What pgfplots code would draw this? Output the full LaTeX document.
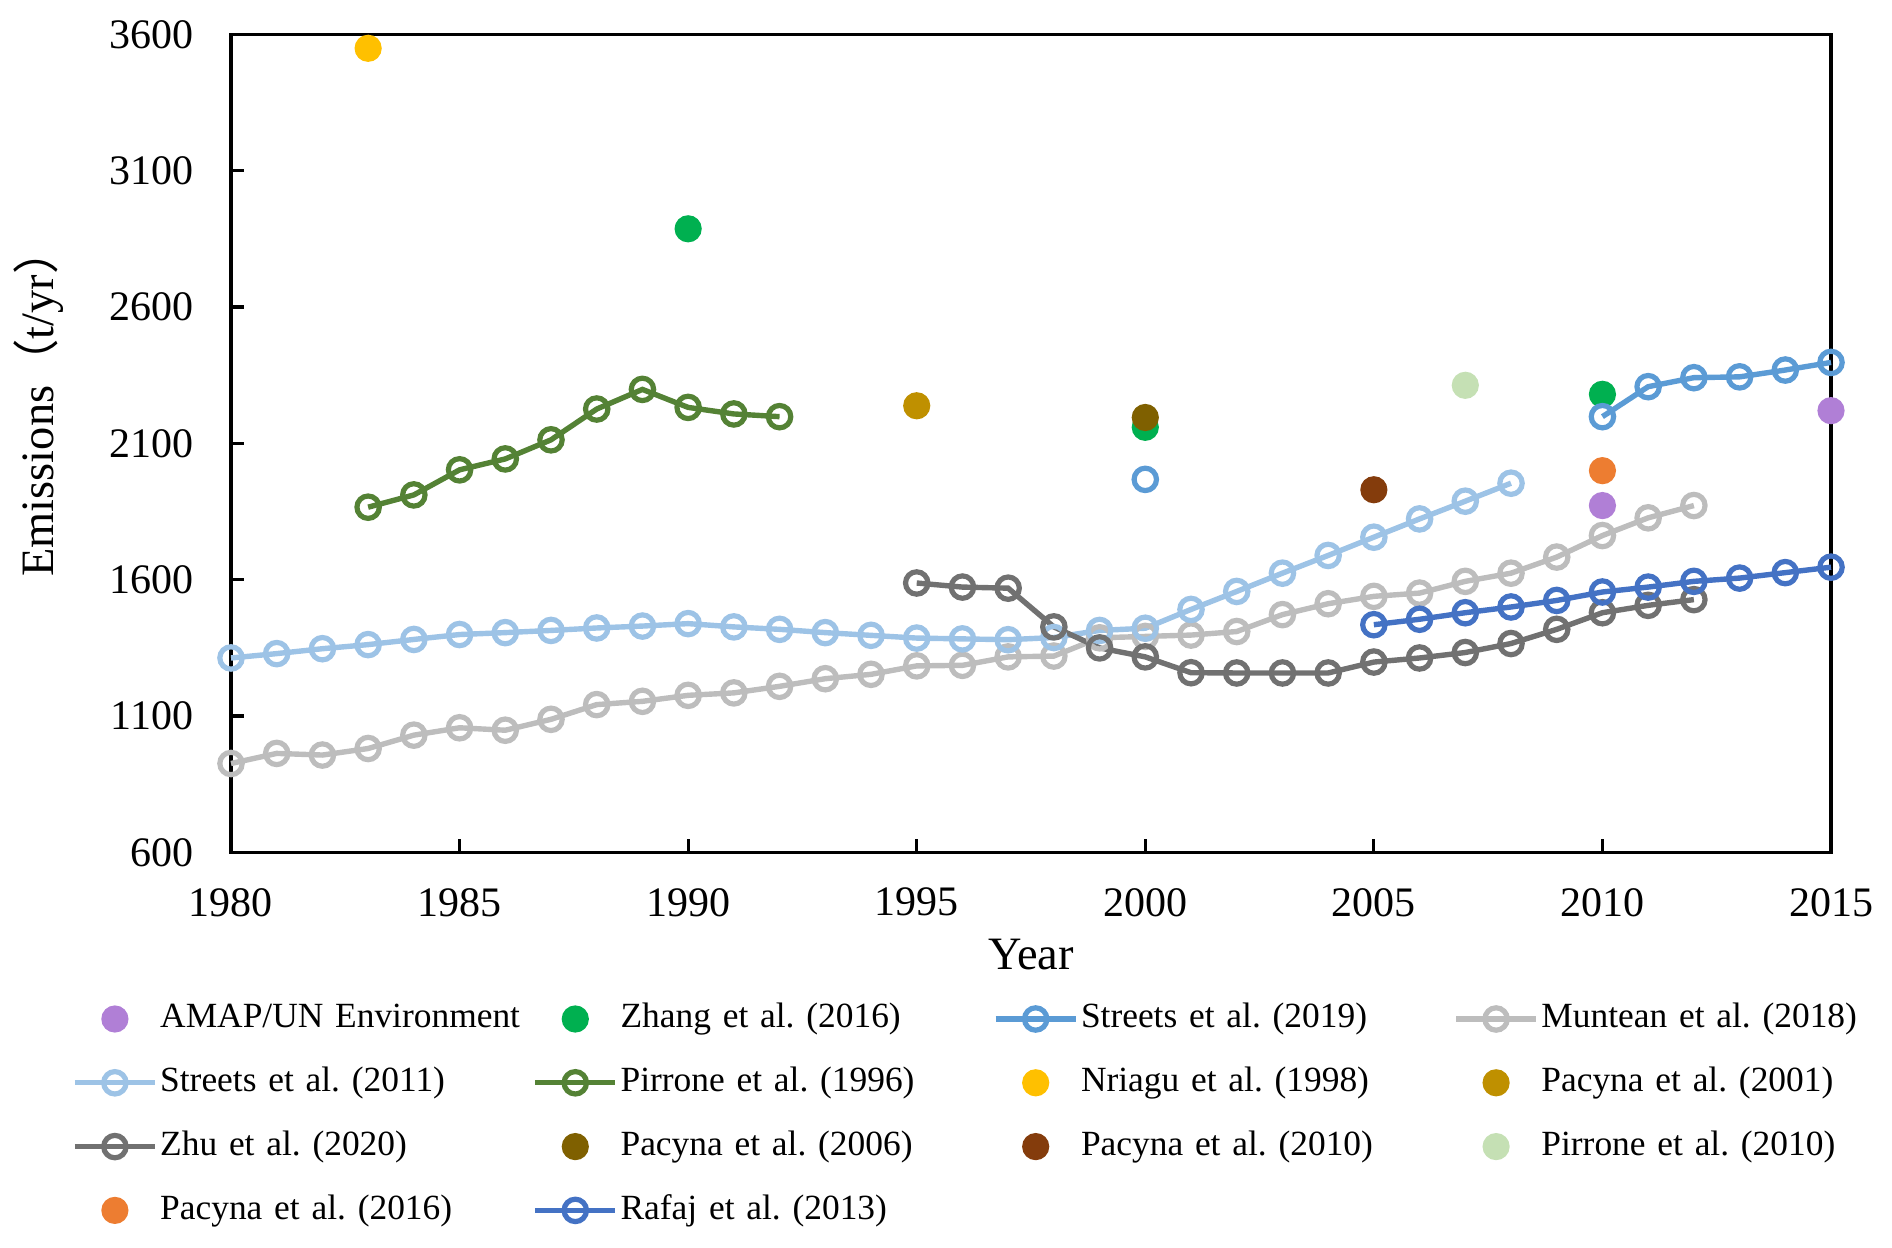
\documentclass[border=0pt]{standalone}
\usepackage{fontspec}
\setmainfont{Liberation Serif}
\newfontfamily\cjk{Noto Sans CJK SC}
\usepackage{pgfplots}
\pgfplotsset{compat=1.18}

\definecolor{cAmap}{HTML}{B07FD6}
\definecolor{cZhang}{HTML}{00B050}
\definecolor{cStr19}{HTML}{5B9BD5}
\definecolor{cMunt}{HTML}{BDBDBD}
\definecolor{cStr11}{HTML}{9DC3E6}
\definecolor{cPir96}{HTML}{548235}
\definecolor{cNri}{HTML}{FFC000}
\definecolor{cPac01}{HTML}{BF9000}
\definecolor{cZhu}{HTML}{717171}
\definecolor{cPac06}{HTML}{7F6000}
\definecolor{cPac10}{HTML}{843C0C}
\definecolor{cPir10}{HTML}{C5E0B4}
\definecolor{cPac16}{HTML}{ED7D31}
\definecolor{cRaf}{HTML}{4472C4}

\pgfplotsset{
  ser/.style={color=#1, line width=1.35pt, mark=o, mark size=2.8pt,
    mark options={fill=white, line width=1.3pt, solid}},
  dot/.style={only marks, color=#1, mark=*, mark size=3.2pt,
    mark options={draw=none, fill=#1}},
}

\begin{document}
\frenchspacing
\begin{tikzpicture}
\begin{axis}[
  scale only axis, width=400pt, height=204.5pt,
  xmin=1980, xmax=2015, ymin=600, ymax=3600,
  xtick={1980,1985,...,2015}, ytick={600,1100,...,3600},
  /pgf/number format/.cd, 1000 sep={}, assume math mode=true, /pgfplots/.cd,
  tick align=inside, xtick pos=bottom, ytick pos=left,
  major tick length=3.3pt,
  axis line style={line width=0.8pt},
  every tick/.style={line width=0.8pt, black},
  tick label style={font=\fontsize{10.5}{12}\selectfont},
  yticklabel style={inner sep=0pt, xshift=-9.25pt},
  xticklabel style={inner sep=0pt, yshift=-8.75pt},
  label style={font=\fontsize{11.6}{13}\selectfont},
  xlabel={Year},
  ylabel={Emissions{\cjk （}t/yr{\cjk ）}},
  xlabel style={at={(axis description cs:0.5,-0.125)}, anchor=center},
  ylabel style={at={(axis description cs:-0.12,0.55)}, anchor=center, rotate=0},
  clip=false, unbounded coords=jump,
  legend columns=4,
  legend cell align=left,
  legend image code/.code={\draw[mark repeat=2,mark phase=2] plot coordinates {(0pt,0pt) (10pt,0pt) (20pt,0pt)};},
  legend style={draw=none, fill=none, at={(0,0)}, anchor=north west,
    xshift=-39.9pt, yshift=-37.2pt, inner xsep=0pt, inner ysep=0pt,
    font=\fontsize{8.85}{10}\selectfont, row sep=7.45pt,
    nodes={inner sep=0pt, text width=93.1pt, text height=6.5pt, text depth=2pt},
    /tikz/every odd column/.append style={column sep=0.65pt},
    /tikz/every even column/.append style={column sep=0pt}},
]
\addplot[dot=cAmap] coordinates {(2010,1872) (2015,2220)};
\addlegendentry{AMAP/UN Environment}
\addplot[dot=cZhang] coordinates {(1990,2887) (2000,2159) (2010,2280)};
\addlegendentry{Zhang et al. (2016)}
\addplot[ser=cStr19] coordinates {(2000,1968) (2001,nan) (2010,2198) (2011,2308) (2012,2341) (2013,2344) (2014,2369) (2015,2397)};
\addlegendentry{Streets et al. (2019)}
\addplot[ser=cMunt] coordinates {
  (1980,926) (1981,963) (1982,957) (1983,981) (1984,1030) (1985,1057)
  (1986,1048) (1987,1088) (1988,1142) (1989,1154) (1990,1176) (1991,1185)
  (1992,1209) (1993,1237) (1994,1253) (1995,1284) (1996,1286) (1997,1317)
  (1998,1320) (1999,1387) (2000,1392) (2001,1397) (2002,1410) (2003,1472)
  (2004,1512) (2005,1539) (2006,1551) (2007,1594) (2008,1624) (2009,1683)
  (2010,1762) (2011,1827) (2012,1872)};
\addlegendentry{Muntean et al. (2018)}
\addplot[ser=cStr11] coordinates {
  (1980,1313) (1981,1329) (1982,1347) (1983,1362) (1984,1381) (1985,1399)
  (1986,1406) (1987,1414) (1988,1423) (1989,1430) (1990,1439) (1991,1427)
  (1992,1418) (1993,1406) (1994,1396) (1995,1386) (1996,1383) (1997,1380)
  (1998,1388) (1999,1414) (2000,1422) (2001,1491) (2002,1557) (2003,1624)
  (2004,1689) (2005,1756) (2006,1823) (2007,1888) (2008,1954)};
\addlegendentry{Streets et al. (2011)}
\addplot[ser=cPir96] coordinates {
  (1983,1866) (1984,1911) (1985,2003) (1986,2043) (1987,2113) (1988,2226)
  (1989,2298) (1990,2232) (1991,2208) (1992,2198)};
\addlegendentry{Pirrone et al. (1996)}
\addplot[dot=cNri] coordinates {(1983,3549)};
\addlegendentry{Nriagu et al. (1998)}
\addplot[dot=cPac01] coordinates {(1995,2238)};
\addlegendentry{Pacyna et al. (2001)}
\addplot[ser=cZhu] coordinates {
  (1995,1588) (1996,1573) (1997,1569) (1998,1427) (1999,1350) (2000,1317)
  (2001,1259) (2002,1258) (2003,1258) (2004,1258) (2005,1298) (2006,1313)
  (2007,1333) (2008,1366) (2009,1418) (2010,1479) (2011,1506) (2012,1527)};
\addlegendentry{Zhu et al. (2020)}
\addplot[dot=cPac06] coordinates {(2000,2195)};
\addlegendentry{Pacyna et al. (2006)}
\addplot[dot=cPac10] coordinates {(2005,1930)};
\addlegendentry{Pacyna et al. (2010)}
\addplot[dot=cPir10] coordinates {(2007,2313)};
\addlegendentry{Pirrone et al. (2010)}
\addplot[dot=cPac16] coordinates {(2010,2000)};
\addlegendentry{Pacyna et al. (2016)}
\addplot[ser=cRaf] coordinates {
  (2005,1435) (2006,1455) (2007,1479) (2008,1500) (2009,1524) (2010,1555)
  (2011,1573) (2012,1594) (2013,1606) (2014,1626) (2015,1646)};
\addlegendentry{Rafaj et al. (2013)}
\end{axis}
\pgfresetboundingbox
\path[use as bounding box] ([xshift=-57.75pt,yshift=-98.7pt]current axis.south west) rectangle ([xshift=15.25pt,yshift=8.6pt]current axis.north east);
\end{tikzpicture}
\end{document}
